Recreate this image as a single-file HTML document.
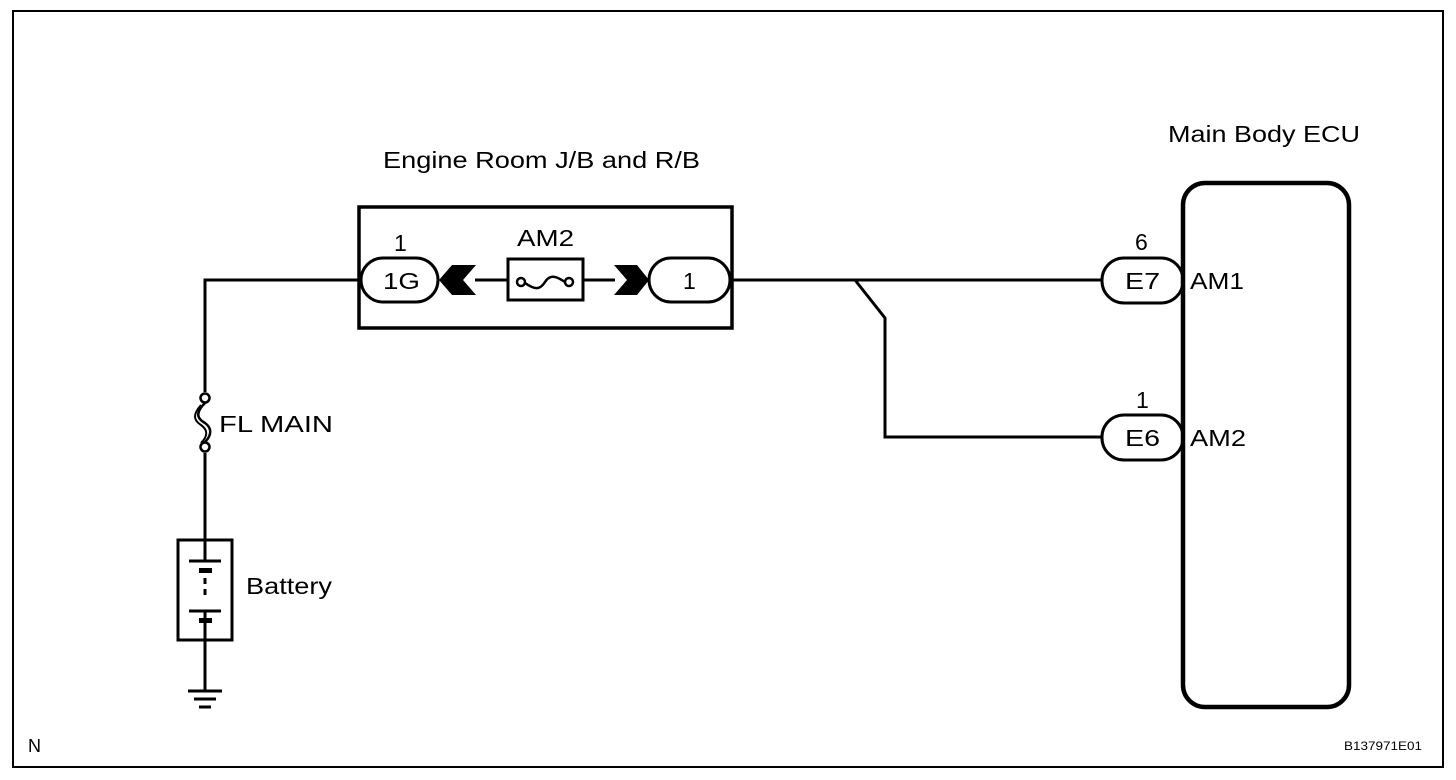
<!DOCTYPE html>
<html><head><meta charset="utf-8"><style>
html,body{margin:0;padding:0;background:#fff;}
svg{display:block;}
text{font-family:"Liberation Sans",Arial,sans-serif;fill:#000;}
</style></head><body>
<svg width="1456" height="780" viewBox="0 0 1456 780" xmlns="http://www.w3.org/2000/svg">
<rect x="13" y="11" width="1430" height="756" fill="none" stroke="#000" stroke-width="2"/>
<g stroke="#000" stroke-width="3" fill="none">
<polyline points="360,280 205,280 205,392"/>
<line x1="205" y1="453" x2="205" y2="540"/>
<line x1="205" y1="640" x2="205" y2="690"/>
<line x1="475" y1="280" x2="507" y2="280"/>
<line x1="583" y1="280" x2="615" y2="280"/>
<line x1="732" y1="280" x2="1102" y2="280"/>
<polyline points="855,280 885,318 885,437 1102,437"/>
<rect x="359" y="207" width="373" height="121" stroke-width="3.5"/>
<rect x="508" y="259" width="75" height="41"/>
<rect x="361" y="258" width="77" height="44" rx="22" fill="#fff"/>
<rect x="649" y="258" width="81" height="44" rx="22" fill="#fff"/>
<rect x="1102" y="258" width="81" height="45" rx="22" fill="#fff"/>
<rect x="1102" y="415" width="81" height="45" rx="22" fill="#fff"/>
<rect x="1183" y="183" width="166" height="524" rx="22" stroke-width="4.5"/>
<rect x="178" y="540" width="54" height="100"/>
<line x1="189" y1="561" x2="221" y2="561"/>
<line x1="189" y1="611" x2="221" y2="611"/>
<line x1="205" y1="540" x2="205" y2="561"/>
<line x1="205" y1="611" x2="205" y2="640"/>
<line x1="205" y1="578" x2="205" y2="600" stroke-dasharray="6,5"/>
<line x1="188" y1="691" x2="222" y2="691"/>
<line x1="194" y1="699" x2="216" y2="699"/>
<line x1="199" y1="707" x2="211" y2="707"/>
<circle cx="205" cy="398" r="4.5" fill="#fff" stroke-width="2.5"/>
<circle cx="205" cy="447" r="4.5" fill="#fff" stroke-width="2.5"/>
<path d="M205,403 C196,412 196,418 205,423 C212,428 212,435 205,442" stroke-width="2.5"/>
<path d="M201,405 C193,414 193,420 201,425 C208,430 208,436 201,443" stroke-width="2"/>
<circle cx="521" cy="282" r="4" fill="#fff" stroke-width="2.5"/>
<circle cx="569" cy="282" r="4" fill="#fff" stroke-width="2.5"/>
<path d="M525,283 C535,290 540,290 545,282 C550,274 556,276 565,282" stroke-width="2.5"/>
</g>
<g fill="#000" stroke="none">
<rect x="199" y="568" width="13" height="5"/>
<rect x="199" y="618" width="13" height="5"/>
<polygon points="439,280 452,265 476,265 463,280 476,295 452,295"/>
<polygon points="614,265 637,265 649,280 637,295 614,295 627,280"/>
</g>
<g font-size="23">
<text x="383" y="168" textLength="317" lengthAdjust="spacingAndGlyphs">Engine Room J/B and R/B</text>
<text x="1168" y="142" textLength="192" lengthAdjust="spacingAndGlyphs">Main Body ECU</text>
<text x="517" y="246" textLength="57" lengthAdjust="spacingAndGlyphs">AM2</text>
<text x="394" y="251">1</text>
<text x="383" y="289" textLength="37" lengthAdjust="spacingAndGlyphs">1G</text>
<text x="683" y="289">1</text>
<text x="1135" y="250">6</text>
<text x="1136" y="408">1</text>
<text x="1125" y="289" textLength="35" lengthAdjust="spacingAndGlyphs">E7</text>
<text x="1125" y="446" textLength="35" lengthAdjust="spacingAndGlyphs">E6</text>
<text x="1190" y="289" textLength="54" lengthAdjust="spacingAndGlyphs">AM1</text>
<text x="1190" y="446" textLength="56" lengthAdjust="spacingAndGlyphs">AM2</text>
<text x="219" y="432" textLength="114" lengthAdjust="spacingAndGlyphs">FL MAIN</text>
<text x="246" y="594" textLength="86" lengthAdjust="spacingAndGlyphs">Battery</text>
<text x="28" y="752" font-size="18" textLength="13" lengthAdjust="spacingAndGlyphs">N</text>
<text x="1344" y="750" font-size="12" textLength="78" lengthAdjust="spacingAndGlyphs">B137971E01</text>
</g>
</svg>
</body></html>
